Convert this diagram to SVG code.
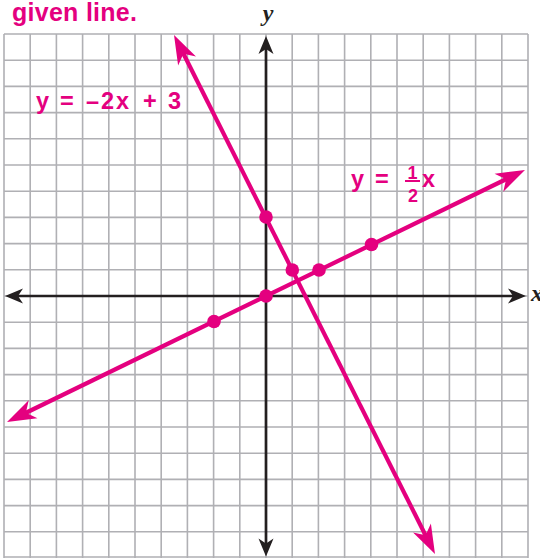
<svg xmlns="http://www.w3.org/2000/svg" width="540" height="558" viewBox="0 0 540 558">
<style>
.grid{fill:none;stroke:#b0b0b4;stroke-width:1.6}
.axis{fill:none;stroke:#231f20;stroke-width:2.7}
.pline{fill:none;stroke:#e4007f;stroke-width:4.2}
.dot{fill:#e4007f}
.lbl{font-family:"Liberation Sans",Arial,sans-serif;font-weight:bold;fill:#e4007f}
.var{font-family:"Liberation Serif","Times New Roman",serif;font-style:italic;font-weight:bold;fill:#231f20}
</style>
<defs>
<marker id="ak" viewBox="-20 -9 22 18" markerWidth="22" markerHeight="18" refX="-10" refY="0" markerUnits="userSpaceOnUse" orient="auto-start-reverse" overflow="visible">
<path d="M0,0 L-18,-7.5 L-13,0 L-18,7.5 Z" fill="#231f20"/>
</marker>
<marker id="ap" viewBox="-31 -11 33 22" markerWidth="33" markerHeight="22" refX="-16" refY="0" markerUnits="userSpaceOnUse" orient="auto-start-reverse" overflow="visible">
<path d="M0,0 L-29,-10 L-21,0 L-29,10 Z" fill="#e4007f"/>
</marker>
</defs>
<rect width="540" height="558" fill="#ffffff"/>
<text id="title" class="lbl" x="12" y="21" font-size="25" textLength="125" lengthAdjust="spacing">given line.</text>
<g id="grid">
<path class="grid" d="M4,34V558M30.2,34V558M56.4,34V558M82.6,34V558M108.8,34V558M135,34V558M161.2,34V558M187.4,34V558M213.6,34V558M239.8,34V558M266,34V558M292.2,34V558M318.4,34V558M344.6,34V558M370.8,34V558M397,34V558M423.2,34V558M449.4,34V558M475.6,34V558M501.8,34V558M528,34V558
M4,34H528M4,60.2H528M4,86.4H528M4,112.6H528M4,138.8H528M4,165H528M4,191.2H528M4,217.4H528M4,243.6H528M4,269.8H528M4,296H528M4,322.2H528M4,348.4H528M4,374.6H528M4,400.8H528M4,427H528M4,453.2H528M4,479.4H528M4,505.6H528M4,531.8H528M4,557H528"/>
</g>
<g id="connectors">
<line class="axis" x1="15" y1="296" x2="516" y2="296" marker-start="url(#ak)" marker-end="url(#ak)"/>
<line class="axis" x1="266" y1="46" x2="266" y2="546.5" marker-start="url(#ak)" marker-end="url(#ak)"/>
<line class="pline" x1="181.2" y1="49.3" x2="427.8" y2="539.7" marker-start="url(#ap)" marker-end="url(#ap)"/>
<line class="pline" x1="21.4" y1="415" x2="510.6" y2="177" marker-start="url(#ap)" marker-end="url(#ap)"/>
</g>
<g id="labels">
<text id="ylabel" class="var" x="268" y="21" font-size="24" text-anchor="middle">y</text>
<text id="xlabel" class="var" x="531" y="301" font-size="24">x</text>
<text id="eq1" class="lbl" font-size="23.5" y="109" x="36 50 60 80 86 101 116 134 143 162 168">y = –2x + 3</text>
<g id="eq2">
<text class="lbl" font-size="23.5" y="187" x="351 368 375 395">y = </text>
<text class="lbl" font-size="18" y="178.5" x="412.5" text-anchor="middle">1</text>
<line x1="405" y1="181" x2="420" y2="181" stroke="#e4007f" stroke-width="2"/>
<text class="lbl" font-size="18" y="202" x="413" text-anchor="middle">2</text>
<text class="lbl" font-size="23.5" y="187" x="422">x</text>
</g>
</g>
<g id="points">
<circle class="dot" cx="266" cy="217" r="6.8"/>
<circle class="dot" cx="292.3" cy="270" r="6.8"/>
<circle class="dot" cx="214" cy="321.5" r="6.8"/>
<circle class="dot" cx="266" cy="296" r="6.8"/>
<circle class="dot" cx="319" cy="270" r="6.8"/>
<circle class="dot" cx="371.5" cy="244.5" r="6.8"/>
</g>
</svg>
